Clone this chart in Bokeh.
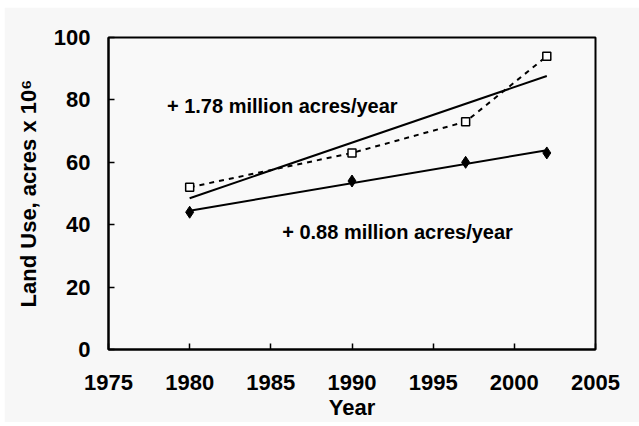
from bokeh.plotting import figure
from bokeh.models import Range1d, FixedTicker
from bokeh.embed import file_html
from bokeh.resources import INLINE
from bokeh.core.properties import value

# ---- data ----
years = [1980, 1990, 1997, 2002]
total_land = [52, 63, 73, 94]      # open squares, dashed line
crop_land = [44, 54, 60, 63]       # filled diamonds
trend_years = [1980, 2002]
trend1_intercept = 48.5            # value of upper trend line at 1980
trend1_slope = 1.78                # million acres / year
trend2_intercept = 44.5            # value of lower trend line at 1980
trend2_slope = 0.88
x_ticks = [1975, 1980, 1985, 1990, 1995, 2000, 2005]
y_ticks = [0, 20, 40, 60, 80, 100]
label1 = "+ 1.78 million acres/year"
label2 = "+ 0.88 million acres/year"

trend1 = [trend1_intercept + trend1_slope * (y - trend_years[0]) for y in trend_years]
trend2 = [trend2_intercept + trend2_slope * (y - trend_years[0]) for y in trend_years]

FONT = "Liberation Sans"
BG = "#f7f7f7"

p = figure(width=635, height=415, output_backend="svg", toolbar_location=None,
           x_range=Range1d(1975, 2005), y_range=Range1d(0, 100),
           min_border_left=104, min_border_right=44, min_border_top=30, min_border_bottom=71)
p.margin = (7, 0, 0, 4)
p.border_fill_color = BG
p.background_fill_color = "#f9f9f9"
p.outline_line_color = "black"
p.outline_line_width = 2
p.xgrid.visible = False
p.ygrid.visible = False

for ax in (p.xaxis, p.yaxis):
    ax.axis_line_width = 2
    ax.axis_line_color = "black"
    ax.major_tick_in = 6
    ax.major_tick_out = 0
    ax.major_tick_line_width = 1.5
    ax.major_tick_line_color = "black"
    ax.minor_tick_line_color = None
    ax.major_label_text_font = FONT
    ax.major_label_text_font_style = "bold"
    ax.major_label_text_font_size = "22px"
    ax.major_label_text_color = "black"
    ax.axis_label_text_font = FONT
    ax.axis_label_text_font_style = "bold"
    ax.axis_label_text_font_size = "22px"
    ax.axis_label_text_color = "black"

p.xaxis.ticker = FixedTicker(ticks=x_ticks)
p.yaxis.ticker = FixedTicker(ticks=y_ticks)
p.xaxis.major_label_standoff = 25
p.yaxis.major_label_standoff = 18
p.xaxis.axis_label = "Year"
p.xaxis.axis_label_standoff = 2
p.yaxis.axis_label = "Land Use, acres x 10\u2076"
p.yaxis.axis_label_standoff = 10

# trend lines
p.line(trend_years, trend1, line_color="black", line_width=2)
p.line(trend_years, trend2, line_color="black", line_width=2)

# dashed series with open squares
p.line(years, total_land, line_color="black", line_width=2, line_dash="5 5")
p.scatter(years, total_land, marker="square", size=8, fill_color="white",
          line_color="black", line_width=1.5)

# diamonds
p.scatter(years, crop_land, marker="diamond", size=12, fill_color="black",
          line_color="black")

# annotations
p.text(x=[1978.6], y=[78], text=[label1], text_font=value(FONT), text_font_style="bold",
       text_font_size="20px", text_baseline="middle", text_align="left", text_color="black")
p.text(x=[1985.7], y=[37.6], text=[label2], text_font=value(FONT), text_font_style="bold",
       text_font_size="20px", text_baseline="middle", text_align="left", text_color="black")

open("out.html", "w").write(file_html(p, INLINE))
